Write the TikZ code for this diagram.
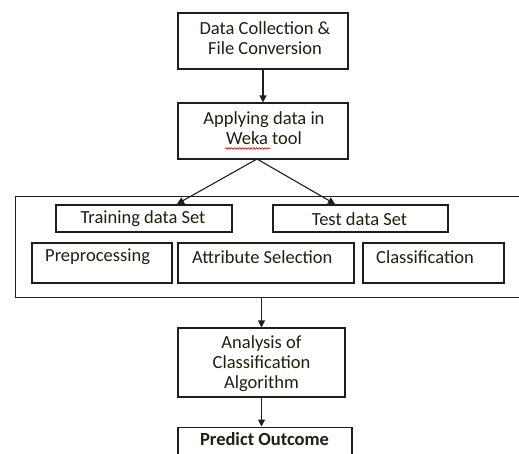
\documentclass[tikz,border=0pt]{standalone}
\usepackage{fontspec}
\setmainfont{Carlito}
\usetikzlibrary{arrows.meta,decorations.pathmorphing}
\definecolor{ink}{HTML}{1E1E1E}
\definecolor{txtc}{HTML}{231E12}
\tikzset{
  box/.style={draw=ink, line width=1.1pt, rectangle, inner sep=0pt},
  txt/.style={text=txtc, font=\fontsize{18.5}{20}\selectfont, inner sep=0pt, align=center},
  arr/.style={draw=ink, line width=1.1pt, -{Triangle[length=7pt,width=7pt]}},
}
\begin{document}
\begin{tikzpicture}[x=1pt,y=-1pt]
\useasboundingbox (0,0) rectangle (519,453);
\clip (0,0) rectangle (519,453);
\fill[white] (0,0) rectangle (519,453);

% top of the flow
\node[box, minimum width=170, minimum height=56] (collect) at (263,41) {};
\node[txt] (collectT) at (265,38) {Data Collection \&\\File Conversion};
\node[box, minimum width=170, minimum height=56] (apply) at (263,131) {};
\node[txt] (applyT) at (264,128) {Applying data in\\Weka tool};
\draw[red!85!black, line width=0.6pt, decorate,
      decoration={snake, amplitude=0.8pt, segment length=2.8pt}]
  (225,148.5) -- (270,148.5);

% the split into training and test data
\node[box, minimum width=510, minimum height=101, anchor=north west] (stage) at (15,196) {};
\node[box, minimum width=176, minimum height=27] (train) at (144,218.5) {};
\node[txt] (trainT) at (143,219) {Training data Set};
\node[box, minimum width=175, minimum height=27] (test) at (360.5,218.5) {};
\node[txt] (testT) at (359.5,219) {Test data Set};

\node[box, minimum width=140, minimum height=40] (pre) at (102,263) {};
\node[txt, anchor=west] (preT) at (45,257) {Preprocessing};
\node[box, minimum width=176, minimum height=40] (attr) at (266,263) {};
\node[txt, anchor=west] (attrT) at (192,257) {Attribute Selection};
\node[box, minimum width=141, minimum height=40] (cls) at (433.5,263) {};
\node[txt, anchor=west] (clsT) at (376,257) {Classification};

% bottom of the flow
\node[box, minimum width=167, minimum height=69] (anal) at (261.5,362.5) {};
\node[txt] (analT) at (261.5,364) {Analysis of\\Classification\\Algorithm};
\node[box, minimum width=174, minimum height=40, anchor=north] (pred) at (265,426.5) {};
\node[txt, font=\fontsize{18.5}{20}\selectfont\bfseries] (predT) at (264.5,439) {Predict Outcome};

% connectors
\coordinate (fork) at (257,159);
\coordinate (trainIn) at (177,204);
\coordinate (testIn) at (335,204);
\draw[arr] (collect.south) -- (apply.north);
\draw[arr] (fork) -- (trainIn);
\draw[arr] (fork) -- (testIn);
\draw[arr] (stage.south -| anal.north) -- (anal.north);
\draw[arr] (anal.south) -- (anal.south |- pred.north);
\end{tikzpicture}
\end{document}
